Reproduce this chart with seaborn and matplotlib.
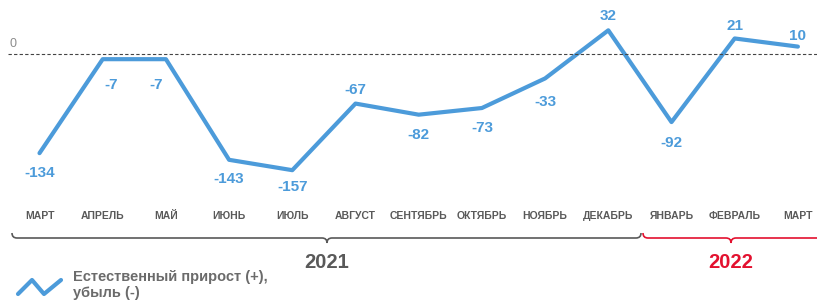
import numpy as np
import pandas as pd
import matplotlib
matplotlib.use("Agg")
import matplotlib.pyplot as plt
from matplotlib.path import Path
from matplotlib.patches import PathPatch
import seaborn as sns

# Data
months = ["МАРТ", "АПРЕЛЬ", "МАЙ", "ИЮНЬ", "ИЮЛЬ", "АВГУСТ", "СЕНТЯБРЬ",
          "ОКТЯБРЬ", "НОЯБРЬ", "ДЕКАБРЬ", "ЯНВАРЬ", "ФЕВРАЛЬ", "МАРТ"]
values = [-134, -7, -7, -143, -157, -67, -82, -73, -33, 32, -92, 21, 10]
years = ["2021", "2022"]
legend_label = "Естественный прирост (+),\nубыль (-)"

# label offsets in pixels (dx, dy)
label_offsets = [(0, -20), (8, -26), (-10, -26), (0, -19), (0, -17), (0, 14),
                 (0, -20), (0, -20), (0, -24), (0, 14), (0, -21), (0, 12), (0, 11)]

BLUE = "#4C9BDA"
GRAY = "#595959"
RED = "#E3112F"

sns.set_style("white")
plt.rcParams['font.family'] = ['Liberation Sans', 'DejaVu Sans']

W, H = 817, 302
fig = plt.figure(figsize=(W / 100, H / 100), dpi=100)

# main axes: top 0..205 px of the figure
ax = fig.add_axes([0, (H - 205) / H, 1, 205 / H])
df = pd.DataFrame({"x": np.arange(len(values)), "v": values})
sns.lineplot(data=df, x="x", y="v", ax=ax, color=BLUE, linewidth=3)
ax.set_xlim(-39.5 / 63.2, (W - 39.5) / 63.2)
ax.set_ylim((54 - 205) / 0.74, 54 / 0.74)
ax.axhline(0, xmin=8 / W, xmax=1, color="#444444", linestyle=(0, (3, 2)), linewidth=0.8)
ax.set_xticks(range(len(months)))
ax.set_xticklabels(months, fontsize=7.5, fontweight="bold", color=GRAY)
ax.tick_params(axis="x", length=0, pad=4)
ax.set_yticks([])
ax.set_xlabel("")
ax.set_ylabel("")
for s in ax.spines.values():
    s.set_visible(False)

for i, v in enumerate(values):
    dx, dy = label_offsets[i]
    ax.annotate(str(v), (i, v), xytext=(dx, dy), textcoords="offset pixels",
                ha="center", va="center", fontsize=11, fontweight="bold", color=BLUE)

# overlay axes in pixel coordinates for decorations
ov = fig.add_axes([0, 0, 1, 1])
ov.set_xlim(0, W)
ov.set_ylim(H, 0)
ov.axis("off")

ov.text(13, 44, "0", fontsize=9, color="#8C8C8C", ha="center", va="center")


def brace(x0, x1, xm, y, color):
    h = 5
    verts = [(x0, y - h), (x0, y), (x0 + 5, y),
             (xm - 5, y), (xm, y), (xm, y + h),
             (xm, y), (xm + 5, y),
             (x1 - 5, y), (x1, y), (x1, y - h)]
    codes = [Path.MOVETO, Path.CURVE3, Path.CURVE3,
             Path.LINETO, Path.CURVE3, Path.CURVE3,
             Path.CURVE3, Path.CURVE3,
             Path.LINETO, Path.CURVE3, Path.CURVE3]
    ov.add_patch(PathPatch(Path(verts, codes), fill=False, edgecolor=color, lw=1.2))


brace(12, 641, 327, 238, GRAY)
brace(643, 830, 731, 238, RED)
ov.text(327, 262, years[0], fontsize=14.5, fontweight="bold", color=GRAY, ha="center", va="center")
ov.text(731, 262, years[1], fontsize=14.5, fontweight="bold", color=RED, ha="center", va="center")

# legend
ov.plot([18, 32, 44, 61], [294, 280, 294, 280], color=BLUE, lw=3)
ov.text(73, 270, legend_label, fontsize=10.5, fontweight="bold", color="#6B6B6B",
        ha="left", va="top", linespacing=1.2)

fig.savefig("out.png", dpi=100)
